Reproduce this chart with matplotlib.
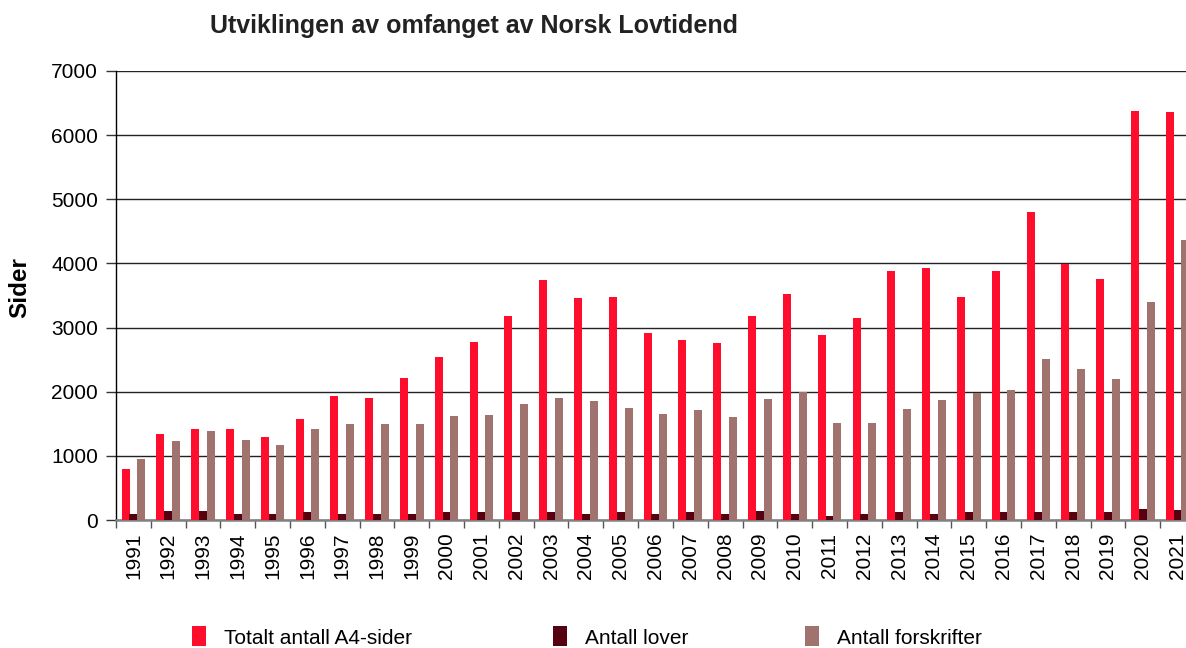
import matplotlib

matplotlib.use("Agg")
import matplotlib.pyplot as plt
import numpy as np

plt.rcParams.update(
    {
        "font.family": ["Liberation Sans", "DejaVu Sans"],
        "font.size": 15,
    }
)

years = [str(y) for y in range(1991, 2022)]
total_a4 = [800, 1345, 1425, 1425, 1300, 1580, 1940, 1905, 2220, 2540,
            2780, 3180, 3745, 3460, 3480, 2915, 2810, 2760, 3180, 3525,
            2885, 3150, 3885, 3930, 3480, 3885, 4805, 3995, 3760, 6375, 6360]
laws = [100, 148, 148, 86, 86, 117, 101, 86, 101, 117,
        117, 117, 132, 101, 132, 101, 132, 101, 148, 101,
        70, 101, 132, 101, 132, 117, 117, 117, 117, 179, 163]
regulations = [958, 1238, 1394, 1254, 1176, 1425, 1503, 1503, 1503, 1628,
               1643, 1815, 1908, 1861, 1752, 1659, 1721, 1612, 1892, 2000,
               1519, 1519, 1737, 1877, 1986, 2033, 2511, 2355, 2200, 3400, 4365]

RED = "#FF0D2D"
DARK = "#560010"
BROWN = "#A0736E"

fig = plt.figure(figsize=(11.86, 6.48), dpi=100)
ax = fig.add_axes([116 / 1186, 1 - 520 / 648, (1195 - 116) / 1186, (520 - 71) / 648])

x = np.arange(len(years))
w = 0.23
b1 = ax.bar(x - 0.225, total_a4, w, color=RED, label="Totalt antall A4-sider", zorder=3)
b2 = ax.bar(x, laws, w, color=DARK, label="Antall lover", zorder=3)
b3 = ax.bar(x + 0.225, regulations, w, color=BROWN, label="Antall forskrifter", zorder=3)

ax.set_xlim(-0.5, len(years) - 0.5)
ax.set_ylim(0, 7000)
ax.set_yticks(np.arange(0, 7001, 1000))
ax.set_yticklabels([str(v) for v in range(0, 7001, 1000)], fontsize=15)
ax.set_xticks(x)
ax.set_xticklabels(years, rotation=90, fontsize=15)
ax.set_xticks(np.arange(-0.5, len(years), 1), minor=True)
ax.tick_params(axis="x", which="major", length=0, pad=9)
ax.tick_params(axis="x", which="minor", length=6, color="#555555", width=1)
ax.tick_params(axis="y", length=7, width=1, color="#333333", pad=6)

ax.yaxis.grid(True, color="#222222", linewidth=1)
ax.set_axisbelow(True)
for s in ["top", "right"]:
    ax.spines[s].set_visible(False)
ax.spines["left"].set_color("black")
ax.spines["left"].set_linewidth(1)
ax.spines["bottom"].set_color("#808080")
ax.spines["bottom"].set_linewidth(1.8)

ax.set_ylabel("Sider", fontsize=17.5, fontweight="bold")
ax.yaxis.set_label_coords(-(116 - 31) / (1195 - 116), (520 - 288) / 449)

fig.text(210 / 1186, 1 - 26 / 648, "Utviklingen av omfanget av Norsk Lovtidend",
         fontsize=18, fontweight="bold", ha="left", va="center", color="#222222")

# three separate legend entries, spaced like the original
for handle, xpos in [(b1, 192), (b2, 553), (b3, 805)]:
    fig.legend(handles=[handle], loc="center left",
               bbox_to_anchor=(xpos / 1186, 1 - 637 / 648),
               frameon=False, fontsize=15, handlelength=0.65, handleheight=1.1,
               handletextpad=0.9, borderaxespad=0, borderpad=0)

fig.savefig("out.png", dpi=100)
